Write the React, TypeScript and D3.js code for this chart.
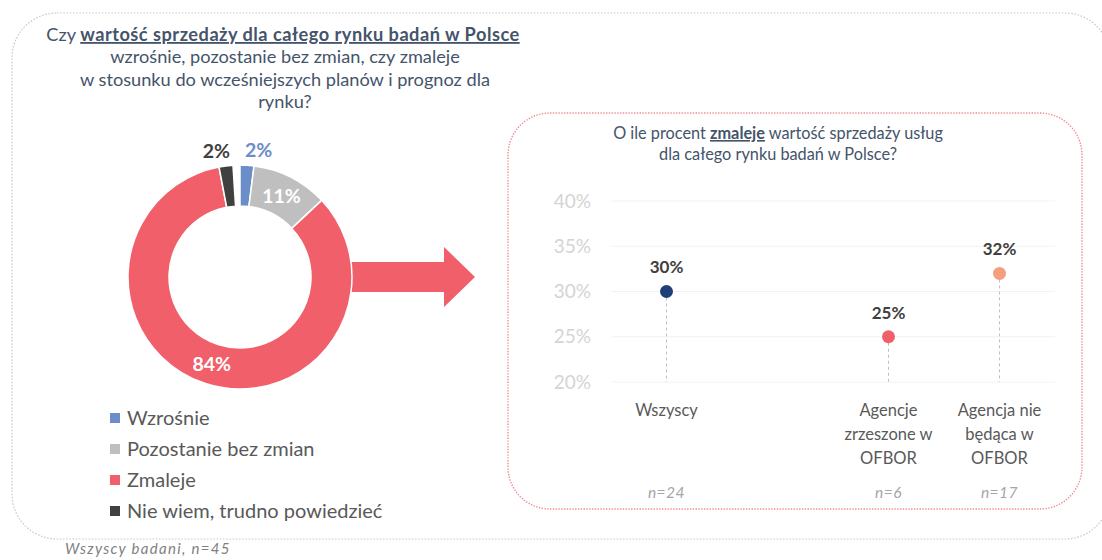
import React from "react";
import * as d3 from "d3";

// ---------- data ----------
const donutCategories = ["Wzrośnie", "Pozostanie bez zmian", "Zmaleje", "Nie wiem, trudno powiedzieć"];
const donutValues = [2, 11, 84, 2];
const donutColors = ["#6b8dc8", "#bfbfbf", "#f05f6a", "#404040"];
const donutLabelColors = ["#6b8dc8", "#ffffff", "#ffffff", "#404040"];
const donutLabelInside = [false, true, true, false];

const lollipopCategories = ["Wszyscy", "Agencje zrzeszone w OFBOR", "Agencja nie będąca w OFBOR"];
const lollipopLabelLines = [["Wszyscy"], ["Agencje", "zrzeszone w", "OFBOR"], ["Agencja nie", "będąca w", "OFBOR"]];
const lollipopValues = [30, 25, 32];
const lollipopN = ["n=24", "n=6", "n=17"];
const lollipopColors = ["#1f3f78", "#f05f6a", "#f4a07e"];
const lollipopSlots = ["Wszyscy", "—", "Agencje zrzeszone w OFBOR", "Agencja nie będąca w OFBOR"];
const yTicks = [20, 25, 30, 35, 40];

const FONT = "Lato, 'Open Sans', sans-serif";
const TITLE_COLOR = "#44546a";

export default function App() {
  // donut geometry
  const cx = 240, cy = 277, R = 112, r = 71;
  const pie = d3.pie<number>().sort(null).value((d) => d).startAngle(0).endAngle((2 * Math.PI * d3.sum(donutValues)) / 100);
  const arcs = pie(donutValues);
  const arc = d3.arc<d3.PieArcDatum<number>>().innerRadius(r).outerRadius(R);
  const outerLabelArc = d3.arc<d3.PieArcDatum<number>>().innerRadius(R + 15).outerRadius(R + 15);

  // arrow geometry (relative to donut)
  const shaftH = 15, headH = 30;
  const ax0 = cx + R - 4, axHead = cx + 204, axTip = cx + 235;
  const arrowPath = d3.path();
  arrowPath.moveTo(ax0, cy - shaftH);
  arrowPath.lineTo(axHead, cy - shaftH);
  arrowPath.lineTo(axHead, cy - headH);
  arrowPath.lineTo(axTip, cy);
  arrowPath.lineTo(axHead, cy + headH);
  arrowPath.lineTo(axHead, cy + shaftH);
  arrowPath.lineTo(ax0, cy + shaftH);
  arrowPath.closePath();

  // lollipop scales
  const x = d3.scaleBand<string>().domain(lollipopSlots).range([611, 1055]);
  const y = d3.scaleLinear().domain([20, 40]).range([382, 201]);
  const xc = (c: string) => (x(c) ?? 0) + x.bandwidth() / 2;

  return (
    <svg width={1102} height={560} style={{ position: "absolute", left: 0, top: 0, background: "#fff" }} fontFamily={FONT}>
      {/* outer frame */}
      <rect x={12} y={13} width={1098} height={526} rx={45} fill="none" stroke="#c9c9c9" strokeWidth={1.2} strokeDasharray="1.6 1.6" />

      {/* left title */}
      <g fill={TITLE_COLOR} fontSize={18.2} textAnchor="middle">
        <text x={283} y={41}>
          Czy{" "}
          <tspan fontWeight={700} textDecoration="underline" letterSpacing={0.5}>wartość sprzedaży dla całego rynku badań w Polsce</tspan>
        </text>
        <text x={285} y={63}>wzrośnie, pozostanie bez zmian, czy zmaleje</text>
        <text x={285} y={86}>w stosunku do wcześniejszych  planów i prognoz dla</text>
        <text x={285} y={108}>rynku?</text>
      </g>

      {/* arrow */}
      <path d={arrowPath.toString()} fill="#f05f6a" />

      {/* donut */}
      <g transform={`translate(${cx},${cy})`}>
        {arcs.map((a, i) => (
          <path key={i} d={arc(a) ?? ""} fill={donutColors[i]} stroke="#fff" strokeWidth={1.5} />
        ))}
        {arcs.map((a, i) => {
          const inside = donutLabelInside[i];
          const [px, py] = inside ? arc.centroid(a) : outerLabelArc.centroid(a);
          const mid = (a.startAngle + a.endAngle) / 2;
          const left = mid > Math.PI;
          const anchor = inside ? "middle" : left ? "end" : "start";
          const dx = inside ? 0 : left ? 6 : -3;
          return (
            <text key={i} x={px + dx} y={py} dy="0.36em" textAnchor={anchor} fontSize={19.5} fontWeight={700} fill={donutLabelColors[i]}>
              {`${donutValues[i]}%`}
            </text>
          );
        })}
      </g>

      {/* legend */}
      <g>
        {donutCategories.map((c, i) => (
          <g key={c} transform={`translate(110,${418 + i * 31})`}>
            <rect x={0} y={-5} width={10} height={10} fill={donutColors[i]} />
            <text x={17} y={0} dy="0.35em" fontSize={20} fill="#595959">{c}</text>
          </g>
        ))}
      </g>

      {/* footer */}
      <text x={65} y={554} fontSize={15} fontStyle="italic" letterSpacing={1.3} fill="#7f7f7f">Wszyscy badani, n=45</text>

      {/* right panel frame */}
      <rect x={508} y={113} width={574} height={396} rx={42} fill="none" stroke="#f28b95" strokeWidth={1.4} strokeDasharray="1.4 1.4" />

      {/* right title */}
      <g fill={TITLE_COLOR} fontSize={16.3} textAnchor="middle">
        <text x={778} y={139}>
          O ile procent{" "}
          <tspan fontWeight={700} textDecoration="underline">zmaleje</tspan>
          {" "}wartość sprzedaży usług
        </text>
        <text x={778} y={160}>dla całego rynku badań w Polsce?</text>
      </g>

      {/* y grid + ticks */}
      <g>
        {yTicks.map((t) => (
          <g key={t}>
            <line x1={x.range()[0]} x2={x.range()[1]} y1={y(t)} y2={y(t)} stroke="#f2f2f2" strokeWidth={1} />
            <text x={591} y={y(t)} dy="0.35em" textAnchor="end" fontSize={19} fill="#d4d4d4">{`${t}%`}</text>
          </g>
        ))}
      </g>

      {/* lollipops */}
      <g>
        {lollipopCategories.map((c, i) => {
          const px = xc(c);
          const py = y(lollipopValues[i]);
          return (
            <g key={c}>
              <line x1={px} x2={px} y1={py} y2={y(20)} stroke="#bfbfbf" strokeWidth={1} strokeDasharray="3 3" />
              <circle cx={px} cy={py} r={6.5} fill={lollipopColors[i]} />
              <text x={px} y={py - 24} dy="0.35em" textAnchor="middle" fontSize={17} fontWeight={700} fill="#404040">{`${lollipopValues[i]}%`}</text>
              {lollipopLabelLines[i].map((ln, j) => (
                <text key={j} x={px} y={410 + j * 24} dy="0.35em" textAnchor="middle" fontSize={16.5} fill="#595959">{ln}</text>
              ))}
              <text x={px} y={493} dy="0.35em" textAnchor="middle" fontSize={15.5} fontStyle="italic" letterSpacing={0.5} fill="#a6a6a6">{lollipopN[i]}</text>
            </g>
          );
        })}
      </g>
    </svg>
  );
}
